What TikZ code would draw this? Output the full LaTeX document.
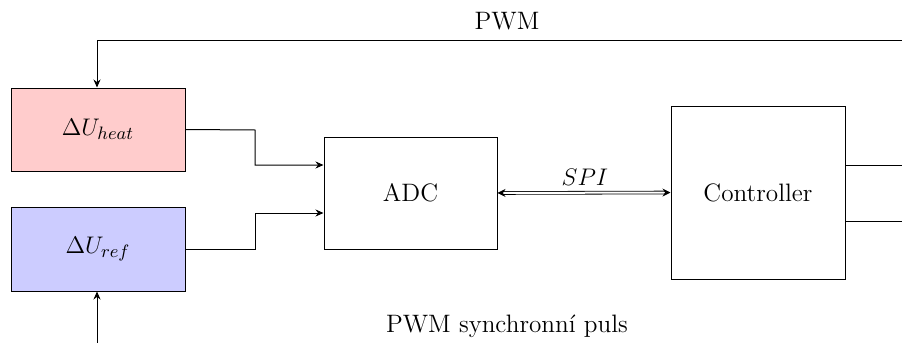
\documentclass[tikz,border=0pt]{standalone}
\usetikzlibrary{arrows.meta}
\begin{document}
\begin{tikzpicture}[x=0.5pt,y=-0.5pt,
  font=\fontsize{12.6}{15}\selectfont,
  block/.style={draw, line width=0.5pt, inner sep=0pt, minimum width=87pt},
  arr/.style={-{Stealth[length=4pt,width=3.5pt]}, line width=0.5pt},
  lbl/.style={inner sep=0pt, anchor=base}]
\clip (0,0) rectangle (902,343);
\node[block, fill=red!20, minimum height=41.5pt] (heat) at (98,129.5) {$\Delta U_{heat}$};
\node[block, fill=blue!20, minimum height=42pt] (ref) at (98,249) {$\Delta U_{ref}$};
\node[block, minimum width=86.5pt, minimum height=56pt] (adc) at (410.5,193) {ADC};
\node[block, minimum height=86.5pt] (ctrl) at (758,192.5) {Controller};
\node[block, minimum height=28pt] (pwmgen) at (932,193) {};
\coordinate (tr) at (960,40);
\coordinate (tl) at (97,40);
\coordinate (br) at (960,360);
\coordinate (bl) at (97,360);
\draw[arr] (pwmgen.north -| tr) -- (tr) -- (tl) -- (heat.north -| tl);
\node[lbl] (pwmlbl) at (507,29) {PWM};
\draw[arr] (heat.east) -- (255,130) -- (255,165) -- (adc.west |- 0,165);
\draw[arr] (ref.east) -- (255,249) -- (255,213) -- (adc.west |- 0,213);
\draw[{Stealth[length=4pt,width=4pt]}-{Stealth[length=4pt,width=4pt]}, double, double distance=1pt, line width=0.4pt] (adc.east) -- (ctrl.west);
\node[lbl] (spi) at (585,185) {$SPI$};
\draw[arr] (pwmgen.south -| br) -- (br) -- (bl) -- (ref.south -| bl);
\node[lbl] (synlbl) at (507,332) {PWM synchronní puls};
\end{tikzpicture}
\end{document}
